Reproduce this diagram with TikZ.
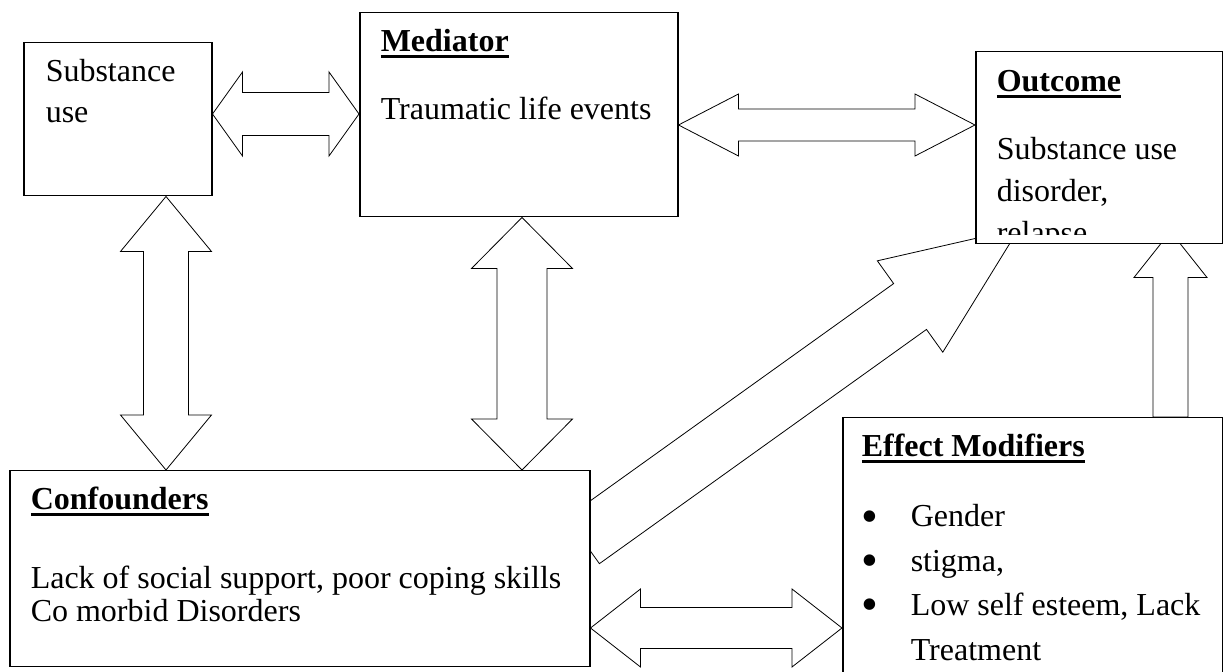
\documentclass[tikz,border=0pt]{standalone}
\usepackage{fontspec}
\usepackage{graphicx}
\setmainfont{Liberation Serif}
\usetikzlibrary{calc,positioning}
\pgfdeclarelayer{background}
\pgfsetlayers{background,main}

% heading with a heavy underline
\newcommand\headword[1]{\setbox0\hbox{\bfseries #1}\rlap{\rule[-3pt]{\wd0}{1.3pt}}\box0}
\newcommand\rows[1]{\begin{tabular}[t]{@{}l@{}}#1\end{tabular}}
\newcommand\bul{\makebox[24.5pt][l]{\raisebox{-2.6pt}{\scalebox{1.5}{•}}}}

% block arrows: #1 start, #2 end, #3 half shaft, #4 half head, #5 head length
\newcommand\twoway[5]{%
  \coordinate (ha) at ($(#1)!#5!(#2)$);
  \coordinate (hb) at ($(#2)!#5!(#1)$);
  \draw[blockarrow] (#1) -- ($(ha)!#4!90:(#2)$) -- ($(ha)!#3!90:(#2)$)
    -- ($(hb)!#3!-90:(#1)$) -- ($(hb)!#4!-90:(#1)$) -- (#2)
    -- ($(hb)!#4!90:(#1)$) -- ($(hb)!#3!90:(#1)$)
    -- ($(ha)!#3!-90:(#2)$) -- ($(ha)!#4!-90:(#2)$) -- cycle;}
\newcommand\oneway[5]{%
  \coordinate (hb) at ($(#2)!#5!(#1)$);
  \draw[blockarrow] ($(#1)!#3!90:(#2)$) -- ($(hb)!#3!-90:(#1)$)
    -- ($(hb)!#4!-90:(#1)$) -- (#2) -- ($(hb)!#4!90:(#1)$)
    -- ($(hb)!#3!90:(#1)$) -- ($(#1)!#3!-90:(#2)$) -- cycle;}

\begin{document}
\begin{tikzpicture}[x=0.5pt, y=-0.5pt, line width=0.75pt,
  box/.style={draw, fill=white, anchor=north west, inner sep=0pt},
  blockarrow/.style={draw, fill=white, line join=miter},
  body/.style={anchor=base west, inner sep=0pt, align=left}]
  \useasboundingbox (0,0) rectangle (1223,672);

  % boxes
  \node[box, minimum width=94pt, minimum height=76.5pt] (sub) at (23,42) {};
  \node[box, minimum width=159pt, minimum height=102pt] (med) at (359,12) {};
  \node[box, minimum width=123.5pt, minimum height=96pt] (out) at (975,51) {};
  \node[box, minimum width=290pt, minimum height=98pt] (conf) at (9,470) {};
  \node[box, minimum width=190pt, minimum height=141.5pt] (eff) at (842,417) {};

  % texts
  \node[body, font=\fontsize{16}{20.5}\selectfont] (subtxt) at ($(sub.north west)+(22,40)$) {\rows{Substance\\use}};
  \node[body, font=\fontsize{16}{20}\selectfont] (medhead) at ($(med.north west)+(21,40)$) {\headword{Mediator}};
  \node[body, font=\fontsize{16}{20}\selectfont] (medtxt) at ($(med.north west)+(21,108)$) {Traumatic life events};
  \node[body, font=\fontsize{16}{20}\selectfont] (outhead) at ($(out.north west)+(21,41)$) {\headword{Outcome}};
  \begin{scope}
    \clip (out.north west) rectangle ($(out.south east)+(0,-10)$);
    \node[body, font=\fontsize{16}{21}\selectfont] (outtxt) at ($(out.north west)+(21,109)$) {\rows{Substance use\\disorder,\\relapse}};
  \end{scope}
  \node[body, font=\fontsize{16}{20}\selectfont] (confhead) at ($(conf.north west)+(21,40)$) {\headword{Confounders}};
  \node[body, font=\fontsize{16}{16.3}\selectfont] (conftxt) at ($(conf.north west)+(21,119)$) {\rows{Lack of social support, poor coping skills\\Co morbid Disorders}};
  \node[body, font=\fontsize{16}{20}\selectfont] (effhead) at ($(eff.north west)+(19,40)$) {\headword{Effect Modifiers}};
  \node[body, font=\fontsize{16}{22.2}\selectfont] (efftxt) at ($(eff.north west)+(19,110)$) {\rows{\bul Gender\\\bul stigma,\\\bul Low self esteem, Lack\\\hspace*{24.5pt}Treatment}};

  % connectors
  \begin{pgfonlayer}{background}
    \coordinate (a1) at (sub.east |- 0,114);
    \coordinate (b1) at (med.west |- 0,114);
    \coordinate (a2) at (med.east |- 0,125);
    \coordinate (b2) at (out.west |- 0,125);
    \coordinate (a3) at (sub.south -| 166,0);
    \coordinate (b3) at (conf.north -| 166,0);
    \coordinate (a4) at (med.south -| 522,0);
    \coordinate (b4) at (conf.north -| 522,0);
    \coordinate (a5) at (conf.east |- 0,628);
    \coordinate (b5) at (eff.west |- 0,628);
    \coordinate (a6) at (eff.north -| 1170.5,0);
    \coordinate (b6) at ($(out.south -| 1170.5,0)+(0,-13)$);
    \coordinate (a7) at ($(conf.east)+(-7.5,-28)$);
    \coordinate (b7) at ($(out.south west)+(44,-16)$);
    \twoway{a1}{b1}{10.75pt}{21pt}{15pt}
    \twoway{a2}{b2}{8pt}{15.5pt}{30pt}
    \twoway{a3}{b3}{11.25pt}{22.75pt}{27.5pt}
    \twoway{a4}{b4}{12.5pt}{25.25pt}{25.5pt}
    \twoway{a5}{b5}{10.25pt}{19.5pt}{25pt}
    \oneway{a6}{b6}{8.75pt}{18.25pt}{23pt}
    \oneway{a7}{b7}{14.1pt}{28.1pt}{67pt}
  \end{pgfonlayer}
\end{tikzpicture}
\end{document}
